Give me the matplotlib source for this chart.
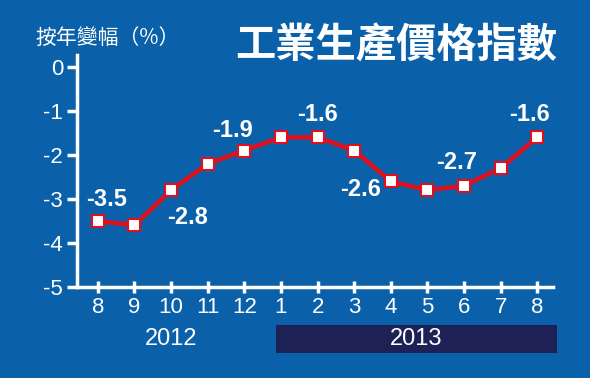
import matplotlib.pyplot as plt
import matplotlib.transforms as mtransforms
from matplotlib.patches import Rectangle

# monthly year-on-year change, Aug 2012 - Aug 2013
months = ['8', '9', '10', '11', '12', '1', '2', '3', '4', '5', '6', '7', '8']
values = [-3.5, -3.6, -2.8, -2.2, -1.9, -1.6, -1.6, -1.9, -2.6, -2.8, -2.7, -2.3, -1.6]
yticks = [0, -1, -2, -3, -4, -5]

# which points get a number, and where it sits (pixel offsets)
label_idx = [0, 2, 4, 6, 8, 10, 12]
label_off = [(9, 21), (16, -27), (-12, 20), (0, 23), (-30, -8), (-7, 23), (-8, 23)]

bg = '#0b60aa'
red = '#e2101c'

plt.rcParams['font.family'] = ['Liberation Sans', 'Noto Sans CJK TC', 'DejaVu Sans']

fig = plt.figure(figsize=(5.9, 3.78), dpi=100, facecolor=bg)
ax = fig.add_axes([77 / 590, 1 - 287 / 378, (553 - 77) / 590, (287 - 55) / 378])
ax.set_facecolor(bg)

x = list(range(len(months)))
ax.plot(x, values, color=red, lw=3.2, marker='s', ms=9, mfc='white',
        mec=red, mew=1.5, zorder=3, solid_joinstyle='round')

for i, (dx, dy) in zip(label_idx, label_off):
    ax.annotate(f'{values[i]:.1f}', (x[i], values[i]), xytext=(dx, dy),
                textcoords='offset pixels', ha='center', va='center',
                color='white', fontsize=17, fontweight='bold')

ax.set_xlim(-0.57, 12.43)
ax.set_ylim(-5, 0.27)
ax.set_xticks(x)
ax.set_xticklabels(months)
ax.set_yticks(yticks)
ax.set_yticklabels([str(v) for v in yticks])

for s in ['top', 'right']:
    ax.spines[s].set_visible(False)
for s in ['left', 'bottom']:
    ax.spines[s].set_color('white')
    ax.spines[s].set_linewidth(2.5)
ax.tick_params(axis='y', colors='white', labelsize=16, length=7, width=2.5, pad=3)
ax.tick_params(axis='x', colors='white', labelsize=16, length=9, width=2.5,
               direction='inout', pad=3)

# year band under the month labels
trans = mtransforms.blended_transform_factory(ax.transData, ax.transAxes)
ax.add_patch(Rectangle((4.86, -0.284), 12.54 - 4.86, 0.12, transform=trans,
                       facecolor='#1e2156', edgecolor='none', clip_on=False))
ax.text(2.0, -0.224, '2012', transform=trans, ha='center', va='center',
        color='white', fontsize=17)
ax.text(8.7, -0.224, '2013', transform=trans, ha='center', va='center',
        color='white', fontsize=17)

fig.text(35 / 590, 1 - 38 / 378, '按年變幅（%）', color='white', fontsize=15,
         ha='left', va='center', family=['Noto Sans CJK TC', 'DejaVu Sans'])
fig.text(557 / 590, 1 - 46 / 378, '工業生產價格指數', color='white', fontsize=29,
         ha='right', va='center', fontweight='black',
         family=['Noto Sans CJK TC', 'DejaVu Sans'])

fig.savefig('out.png', dpi=100, facecolor=bg)
